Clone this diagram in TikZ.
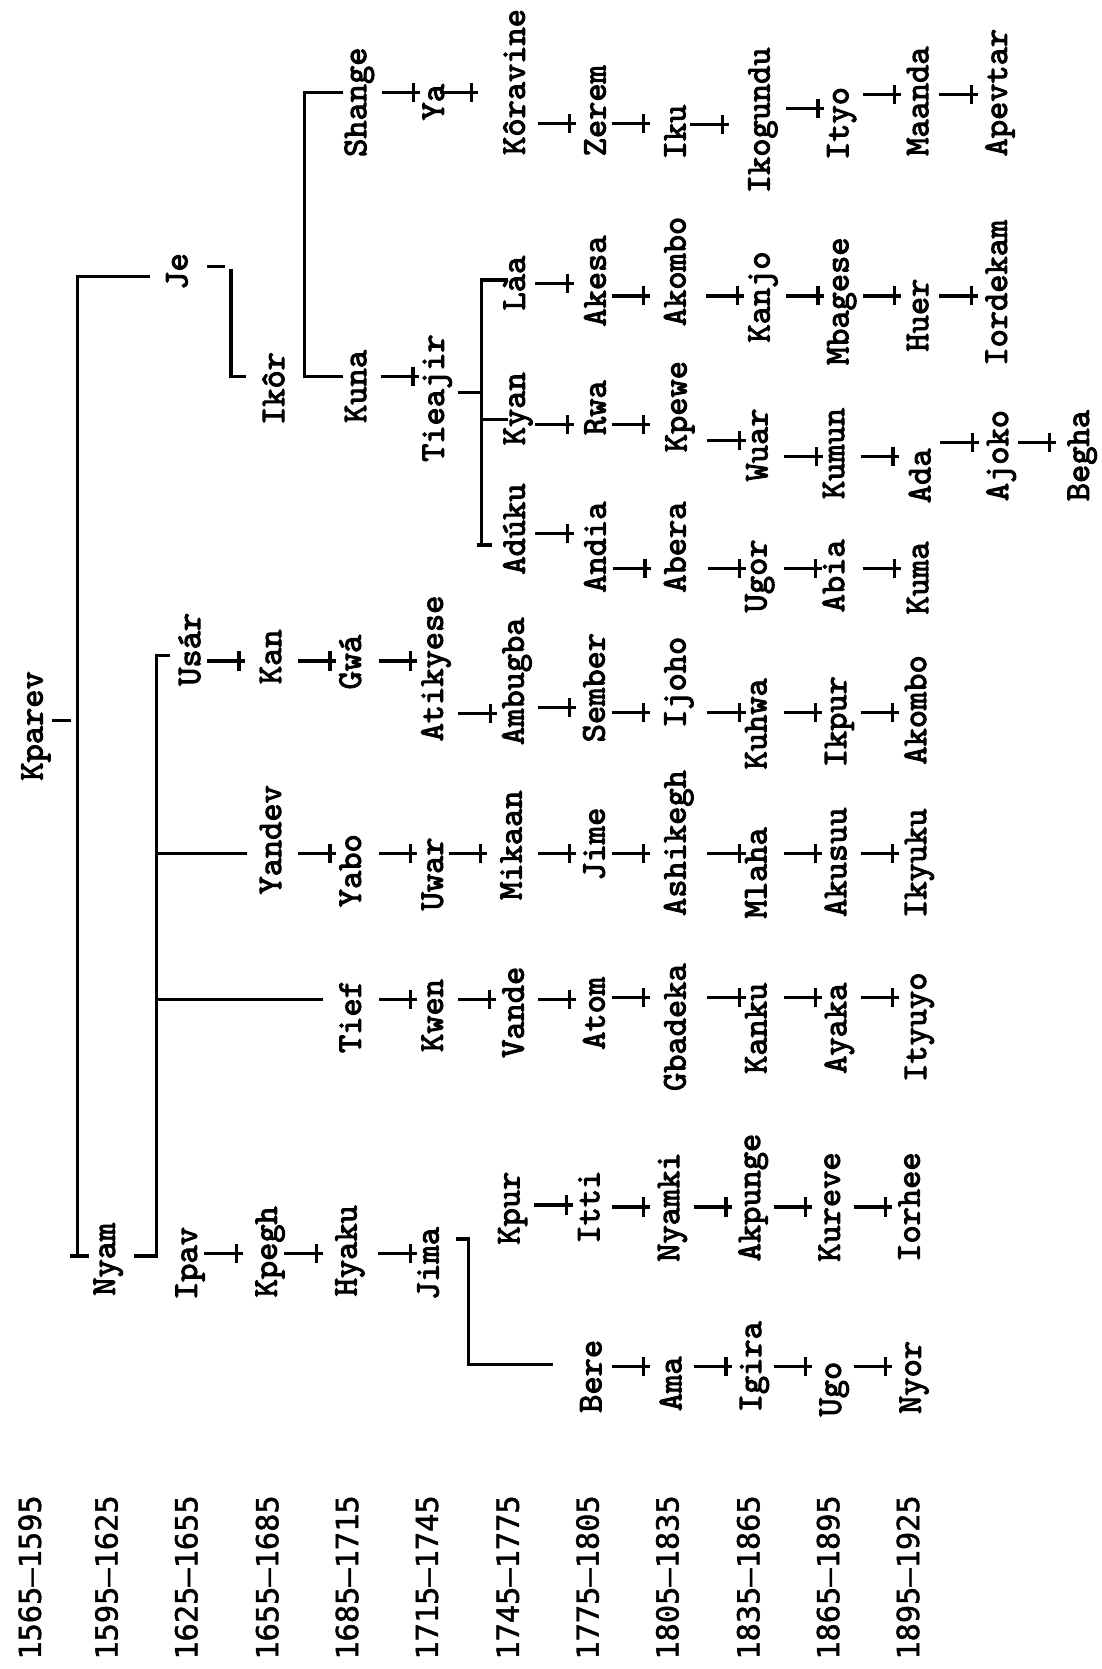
\documentclass[tikz,border=0pt]{standalone}
\usepackage{fontspec}
\usetikzlibrary{calc}
\newfontfamily\namefont{lmmono10-regular.otf}[FakeBold=3]
\newfontfamily\datefont{DejaVu Sans Mono}[FakeBold=1.5]

% father -- son mark between two names: [shift]{from}{to}{row}
\newcommand{\gentick}[4][0]{%
  \coordinate (ty) at (0,#4);
  \coordinate (tm) at ($(#2.south |- ty)!0.5!(#3.north |- ty)$);
  \draw[wire] ([xshift=#1pt-18pt]tm) -- ([xshift=#1pt+18pt]tm);
  \draw[wire] ([xshift=#1pt+12pt,yshift=-9pt]tm) -- ([xshift=#1pt+12pt,yshift=9pt]tm);
}

\begin{document}
\begin{tikzpicture}[x=1pt, y=-1pt,
  person/.style={rotate=90, inner sep=0pt, font=\namefont\fontsize{32.6pt}{34pt}\selectfont,
    text height=22pt, text depth=2pt},
  period/.style={rotate=90, inner sep=0pt, font=\datefont\fontsize{28.5pt}{30pt}\selectfont,
    text height=20.8pt, text depth=0pt},
  wire/.style={line width=3pt}
]
\useasboundingbox (0,0) rectangle (1035,1568);

% Dates of the generations
\node[period] (d0) at (28,1482) {1565–1595};
\node[period] (d1) at (100,1482) {1595–1625};
\node[period] (d2) at (175,1482) {1625–1655};
\node[period] (d3) at (251,1482) {1655–1685};
\node[period] (d4) at (326,1482) {1685–1715};
\node[period] (d5) at (401,1482) {1715–1745};
\node[period] (d6) at (477,1482) {1745–1775};
\node[period] (d7) at (552,1482) {1775–1805};
\node[period] (d8) at (627,1482) {1805–1835};
\node[period] (d9) at (703,1482) {1835–1865};
\node[period] (d10) at (778,1482) {1865–1895};
\node[period] (d11) at (853,1482) {1895–1925};

% Kparev and his sons
\node[person] (kparev) at (30,682) {Kparev};
\node[person] (nyam) at (98,1183) {Nyam};
\node[person] (je) at (166,255) {Je};

\coordinate (kpy) at (0,677);
\coordinate (b1top) at (73,260);
\coordinate (b1bot) at (73,1180);
\draw[wire] ([xshift=7pt]kparev.south |- kpy) -- ([xshift=-6pt]b1top |- kpy);
\draw[wire] ([xshift=-13pt]je.north |- b1top) -- (b1top) -- (b1bot);
\draw[wire] ([xshift=-7pt]b1bot) -- ([xshift=-2pt]nyam.north |- b1bot);

% Je -- Ikor
\node[person] (ikor) at (257,365) {Ikôr};
\coordinate (jey) at (0,250);
\coordinate (b3top) at (217,253);
\coordinate (b3bot) at (217,354);
\draw[wire] ([xshift=16pt]je.south |- jey) -- ([xshift=-6pt]b3top |- jey);
\draw[wire] (b3top) -- (b3bot) -- ([xshift=-14pt]ikor.north |- b3bot);

% Ikor's sons
\node[person] (shange) at (334,96) {Shange};
\node[person] (kuna) at (334,363) {Kuna};
\coordinate (b4top) at (286,87);
\coordinate (b4bot) at (286,354);
\draw[wire] (shange.north |- b4top) -- (b4top) -- (b4bot) -- (kuna.north |- b4bot);

\node[person] (ya) at (407,96) {Ya};
\node[person] (kor) at (483,77) {Kôravine};
\node[person] (tieajir) at (407,374) {Tieajir};
\gentick[6]{shange}{ya}{87}
\gentick[-14]{ya}{kor}{87}
\gentick[5.5]{kuna}{tieajir}{354}

% Tieajir's sons
\node[person] (laa) at (483,266) {Làa};
\node[person] (kyan) at (483,384) {Kyan};
\node[person] (aduku) at (483,497) {Adúku};
\coordinate (tjy) at (0,369);
\coordinate (kyy) at (0,394);
\coordinate (b5top) at (452,263);
\coordinate (b5bot) at (452,512);
\draw[wire] ([xshift=11pt]tieajir.south |- tjy) -- (b5top |- tjy);
\draw[wire] ([xshift=6pt]laa.north |- b5top) -- (b5top) -- (b5bot) -- ([xshift=-9pt]aduku.north |- b5bot);
\draw[wire] ([xshift=-4pt]b5bot) -- (b5bot);
\draw[wire] (b5top |- kyy) -- ([xshift=6pt]kyan.north |- kyy);

% Koravine line
\node[person] (zerem) at (559,104) {Zerem};
\node[person] (iku) at (634,124) {Iku};
\node[person] (ikogundu) at (713,113) {Ikogundu};
\node[person] (ityo) at (787,116) {Ityo};
\node[person] (maanda) at (862,95) {Maanda};
\node[person] (apevtar) at (936,87) {Apevtar};
\gentick[2]{kor}{zerem}{116}
\gentick[-4]{zerem}{iku}{116}
\gentick[-7]{iku}{ikogundu}{117}
\gentick[6.5]{ikogundu}{ityo}{102}
\gentick[4]{ityo}{maanda}{89}
\gentick[1.5]{maanda}{apevtar}{89}

% Laa line
\node[person] (akesa) at (559,264) {Akesa};
\node[person] (akomboA) at (634,255) {Akombo};
\node[person] (kanjo) at (713,279) {Kanjo};
\node[person] (mbagese) at (787,283) {Mbagese};
\node[person] (huer) at (862,296) {Huer};
\node[person] (iordekam) at (936,275) {Iordekam};
\gentick{laa}{akesa}{266}
\gentick[-4]{akesa}{akomboA}{278}
\gentick[7.5]{akomboA}{kanjo}{278}
\gentick[6.5]{kanjo}{mbagese}{278}
\gentick[4]{mbagese}{huer}{278}
\gentick[1.5]{huer}{iordekam}{278}

% Kyan line
\node[person] (rwa) at (559,383) {Rwa};
\node[person] (kpewe) at (635,382) {Kpewe};
\node[person] (wuar) at (711,418) {Wuar};
\node[person] (kumun) at (783,426) {Kumun};
\node[person] (ada) at (864,447) {Ada};
\node[person] (ajoko) at (937,428) {Ajoko};
\node[person] (begha) at (1013,428) {Begha};
\gentick{kyan}{rwa}{399}
\gentick[-4.5]{rwa}{kpewe}{399}
\gentick[9.5]{kpewe}{wuar}{414}
\gentick[8]{wuar}{kumun}{429}
\gentick[3.5]{kumun}{ada}{429}
\gentick[1]{ada}{ajoko}{416}
\gentick[-1]{ajoko}{begha}{416}

% Aduku line
\node[person] (andia) at (559,514) {Andia};
\node[person] (abera) at (634,514) {Abera};
\node[person] (ugor) at (710,541) {Ugor};
\node[person] (abia) at (783,541) {Abia};
\node[person] (kuma) at (862,543) {Kuma};
\gentick{aduku}{andia}{501}
\gentick[-2.5]{andia}{abera}{534}
\gentick[11]{abera}{ugor}{534}
\gentick[8]{ugor}{abia}{534}
\gentick[6]{abia}{kuma}{534}

% Nyam's sons
\node[person] (usar) at (178,610) {Usár};
\node[person] (yandev) at (254,789) {Yandev};
\node[person] (tief) at (329,955) {Tief};
\coordinate (b2top) at (147,616);
\coordinate (b2bot) at (147,1180);
\coordinate (ydy) at (0,802);
\coordinate (tfy) at (0,939);
\draw[wire] ([xshift=-6pt]usar.north |- b2top) -- (b2top) -- (b2bot) -- ([xshift=16pt]nyam.south |- b2bot);
\draw[wire] (b2top |- ydy) -- ([xshift=-10pt]yandev.north |- ydy);
\draw[wire] (b2top |- tfy) -- ([xshift=-13pt]tief.north |- tfy);

% Usar line
\node[person] (kan) at (254,617) {Kan};
\node[person] (gwa) at (329,622) {Gwá};
\node[person] (atikyese) at (406,628) {Atikyese};
\node[person] (ambugba) at (482,640) {Ambugba};
\node[person] (sember) at (558,646) {Sember};
\node[person] (ijoho) at (634,641) {Ijoho};
\node[person] (kuhwa) at (710,680) {Kuhwa};
\node[person] (ikpur) at (785,678) {Ikpur};
\node[person] (akomboB) at (860,667) {Akombo};
\gentick[-3.5]{usar}{kan}{621}
\gentick[6.5]{kan}{gwa}{621}
\gentick[6.5]{gwa}{atikyese}{621}
\gentick[4.5]{atikyese}{ambugba}{670}
\gentick[3]{ambugba}{sember}{665}
\gentick[-3.5]{sember}{ijoho}{669}
\gentick[10.5]{ijoho}{kuhwa}{669}
\gentick[7]{kuhwa}{ikpur}{669}
\gentick[4]{ikpur}{akomboB}{669}

% Yandev line
\node[person] (yabo) at (329,818) {Yabo};
\node[person] (uwar) at (406,821) {Uwar};
\node[person] (mikaan) at (480,794) {Mikaan};
\node[person] (jime) at (558,793) {Jime};
\node[person] (ashikegh) at (634,792) {Ashikegh};
\node[person] (mlaha) at (710,820) {Mlaha};
\node[person] (akusuu) at (785,810) {Akusuu};
\node[person] (ikyuku) at (860,811) {Ikyuku};
\gentick[6.5]{yandev}{yabo}{802}
\gentick[6.5]{yabo}{uwar}{802}
\gentick[-3.5]{uwar}{mikaan}{802}
\gentick[4]{mikaan}{jime}{802}
\gentick[-3.5]{jime}{ashikegh}{802}
\gentick[10.5]{ashikegh}{mlaha}{802}
\gentick[7]{mlaha}{akusuu}{802}
\gentick[4]{akusuu}{ikyuku}{802}

% Tief line
\node[person] (kwen) at (406,954) {Kwen};
\node[person] (vande) at (482,951) {Vande};
\node[person] (atom) at (558,952) {Atom};
\node[person] (gbadeka) at (634,965) {Gbadeka};
\node[person] (kanku) at (710,966) {Kanku};
\node[person] (ayaka) at (785,966) {Ayaka};
\node[person] (ityuyo) at (860,965) {Ityuyo};
\gentick[6.5]{tief}{kwen}{939}
\gentick[4]{kwen}{vande}{939}
\gentick[3]{vande}{atom}{939}
\gentick[-3.5]{atom}{gbadeka}{937}
\gentick[10.5]{gbadeka}{kanku}{937}
\gentick[7]{kanku}{ayaka}{937}
\gentick[4]{ayaka}{ityuyo}{937}

% Ipav line
\node[person] (ipav) at (175,1187) {Ipav};
\node[person] (kpegh) at (250,1176) {Kpegh};
\node[person] (hyaku) at (325,1175) {Hyaku};
\node[person] (jima) at (402,1187) {Jima};
\gentick[-2.5]{ipav}{kpegh}{1178}
\gentick[-2.5]{kpegh}{hyaku}{1178}
\gentick[10]{hyaku}{jima}{1178}

% Jima's sons
\node[person] (kpur) at (478,1135) {Kpur};
\node[person] (bere) at (555,1293) {Bere};
\coordinate (b6top) at (440,1164);
\coordinate (b6bot) at (440,1282);
\draw[wire] ([xshift=14pt]jima.south |- b6top) -- (b6top) -- (b6bot) -- ([xshift=-23pt]bere.north |- b6bot);

% Kpur line
\node[person] (itti) at (553,1134) {Itti};
\node[person] (nyamki) at (628,1134) {Nyamki};
\node[person] (akpunge) at (704,1125) {Akpunge};
\node[person] (kureve) at (779,1134) {Kureve};
\node[person] (iorhee) at (854,1134) {Iorhee};
\gentick[4.5]{kpur}{itti}{1132}
\gentick[2]{itti}{nyamki}{1134}
\gentick[4]{nyamki}{akpunge}{1134}
\gentick[3.5]{akpunge}{kureve}{1134}
\gentick[3.5]{kureve}{iorhee}{1134}

% Bere line
\node[person] (ama) at (630,1300) {Ama};
\node[person] (igira) at (705,1284) {Igira};
\node[person] (ugo) at (780,1305) {Ugo};
\node[person] (nyor) at (855,1294) {Nyor};
\gentick{bere}{ama}{1284}
\gentick[2.5]{ama}{igira}{1284}
\gentick[2.5]{igira}{ugo}{1284}
\gentick[2.5]{ugo}{nyor}{1284}
\end{tikzpicture}
\end{document}
